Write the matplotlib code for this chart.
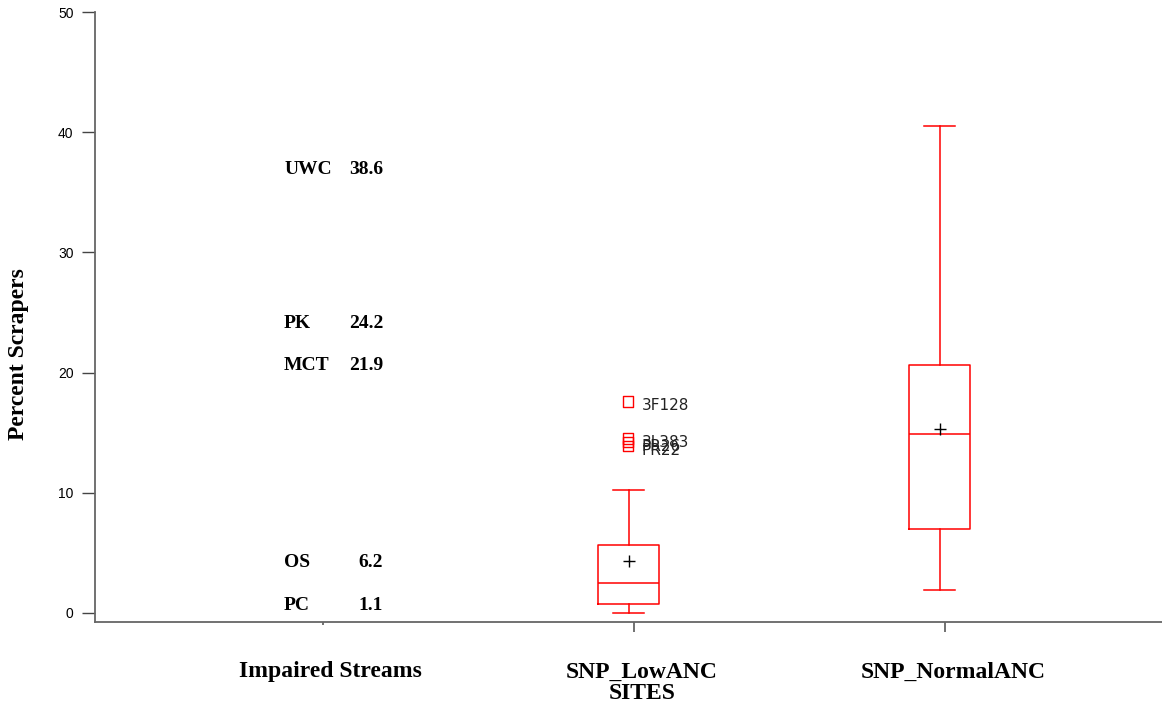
import numpy as np
import matplotlib
matplotlib.use("Agg")
import matplotlib.pyplot as plt

# box statistics
groups = ["Impaired Streams", "SNP_LowANC\nSITES", "SNP_NormalANC"]
box_names = ["SNP_LowANC", "SNP_NormalANC"]
whislo = [0.0, 1.9]
q1 = [0.7, 7.0]
med = [2.5, 14.9]
q3 = [5.6, 20.6]
whishi = [10.2, 40.5]
means = [4.3, 15.3]

# LowANC outliers
out_labels = ["3F128", "3L383", "PR26", "PR22"]
out_values = [17.6, 14.5, 14.2, 13.9]

# impaired streams table
impaired_sites = ["UWC", "PK", "MCT", "OS", "PC"]
impaired_values = ["38.6", "24.2", "21.9", "6.2", "1.1"]
impaired_text_y = [36.9, 24.1, 20.6, 4.15, 0.64]

red = "#ff0000"

fig = plt.figure(figsize=(11.62, 7.04), dpi=100)
ax = fig.add_axes([0.0818, 0.1165, 0.9182, 0.866])

stats = []
for i in range(len(box_names)):
    stats.append(dict(label=box_names[i], whislo=whislo[i], q1=q1[i], med=med[i],
                      q3=q3[i], whishi=whishi[i], mean=means[i], fliers=[]))

ax.bxp(stats, positions=[1.983, 2.983], widths=0.197, showmeans=True, showfliers=False,
       boxprops=dict(color=red, lw=1.1),
       whiskerprops=dict(color=red, lw=1.1),
       capprops=dict(color=red, lw=1.1),
       medianprops=dict(color=red, lw=1.1),
       meanprops=dict(marker="+", markeredgecolor="black", markersize=9, markeredgewidth=1.0),
       capwidths=0.1)

# outliers for LowANC
ax.scatter([1.98] * len(out_values), out_values, marker="s", s=55,
           facecolors="none", edgecolors=red, linewidths=1.0, zorder=3)
for lab, v in zip(out_labels, out_values):
    ax.text(2.025, v - 0.35, lab, fontsize=11, family="DejaVu Sans",
            va="center", ha="left", color="#222222")

# impaired streams values as text
for s, v, ty in zip(impaired_sites, impaired_values, impaired_text_y):
    ax.text(0.875, ty, s, fontsize=14, fontweight="bold", family="Liberation Serif",
            va="center", ha="left")
    ax.text(1.193, ty, v, fontsize=14, fontweight="bold", family="Liberation Serif",
            va="center", ha="right")

ax.set_xlim(0.267, 3.698)
ax.set_ylim(-0.77, 50)

ax.spines["top"].set_visible(False)
ax.spines["right"].set_visible(False)
for sp in ["left", "bottom"]:
    ax.spines[sp].set_color("#666666")
    ax.spines[sp].set_linewidth(1.3)

ax.set_yticks([0, 10, 20, 30, 40, 50])
ax.tick_params(axis="y", length=9.5, width=1.0, color="#444444", labelsize=10, pad=6)
for t in ax.get_yticklabels():
    t.set_family("Liberation Sans")

ax.set_xticks([1, 2, 3])
ax.set_xticklabels([])
ax.tick_params(axis="x", length=7, width=1.3, color="#666666")
ax.xaxis.get_major_ticks()[0].tick1line.set_markersize(2)

for i, g in enumerate(groups):
    ax.text(i + 1 + 0.025, -4.05, g, fontsize=17, fontweight="bold",
            family="Liberation Serif", ha="center", va="top", linespacing=1.05)

ax.set_ylabel("Percent Scrapers", fontsize=17, fontweight="bold",
              family="Liberation Serif")
ax.yaxis.set_label_coords(-0.062, 0.44)

fig.savefig("out.png", dpi=100)
